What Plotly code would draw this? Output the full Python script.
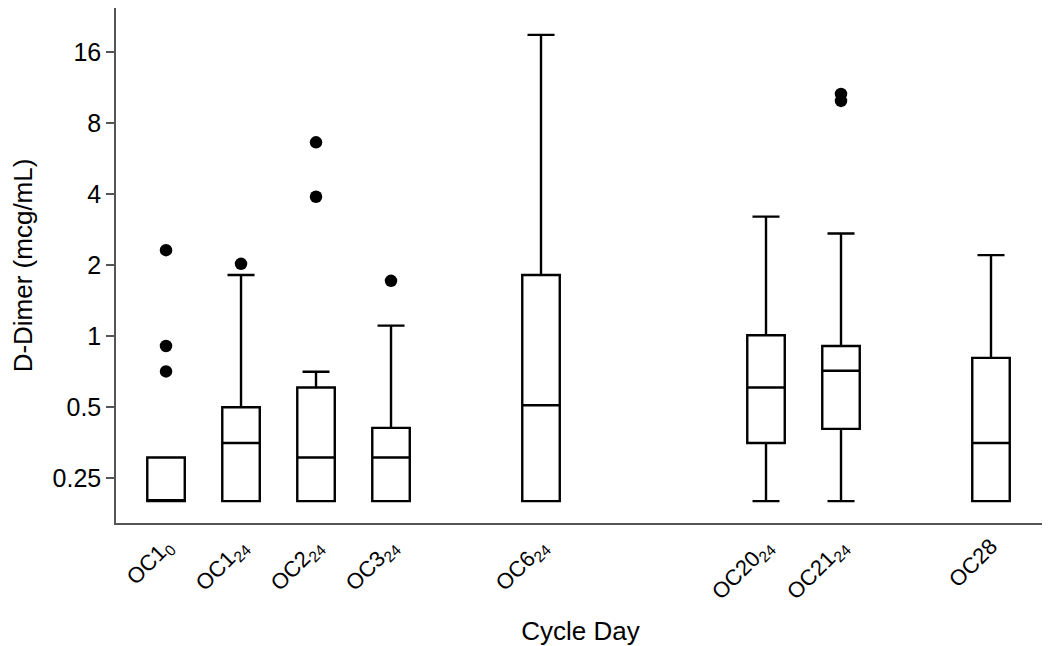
import math
import plotly.graph_objects as go

# ---- data ----
categories = ["OC1<sub>0</sub>", "OC1<sub>24</sub>", "OC2<sub>24</sub>", "OC3<sub>24</sub>",
              "OC6<sub>24</sub>", "OC20<sub>24</sub>", "OC21<sub>24</sub>", "OC28"]
lower_fence = [0.20, 0.20, 0.20, 0.20, 0.20, 0.20, 0.20, 0.20]
q1_vals = [0.20, 0.20, 0.20, 0.20, 0.20, 0.353, 0.405, 0.20]
median_vals = [0.20, 0.353, 0.306, 0.306, 0.51, 0.607, 0.714, 0.353]
q3_vals = [0.306, 0.50, 0.607, 0.409, 1.82, 1.01, 0.91, 0.81]
upper_fence = [0.306, 1.82, 0.708, 1.11, 19.0, 3.22, 2.73, 2.21]

outlier_cat = ["OC1<sub>0</sub>", "OC1<sub>0</sub>", "OC1<sub>0</sub>",
               "OC1<sub>24</sub>",
               "OC2<sub>24</sub>", "OC2<sub>24</sub>",
               "OC3<sub>24</sub>",
               "OC21<sub>24</sub>", "OC21<sub>24</sub>"]
outlier_val = [2.32, 0.91, 0.71, 2.03, 6.65, 3.91, 1.72, 10.67, 9.97]

y_ticks = [0.25, 0.5, 1, 2, 4, 8, 16]
y_tick_text = ["0.25", "0.5", "1", "2", "4", "8", "16"]

# ---- layout: slot index of each category along the x axis ----
slot_of = {c: s for c, s in zip(categories, [0, 1, 2, 3, 5, 8, 9, 11])}
slots = [slot_of[c] for c in categories]

FONT = "Liberation Sans, Arial, sans-serif"

fig = go.Figure()
fig.add_trace(go.Box(
    x=slots,
    q1=q1_vals, median=median_vals, q3=q3_vals,
    lowerfence=lower_fence, upperfence=upper_fence,
    width=0.5, whiskerwidth=0.72,
    fillcolor="white",
    line=dict(color="black", width=2.4),
    boxpoints=False,
    showlegend=False,
    hoverinfo="skip",
))
fig.add_trace(go.Scatter(
    x=[slot_of[c] for c in outlier_cat], y=outlier_val,
    mode="markers",
    marker=dict(color="black", size=12.5, line=dict(width=0)),
    showlegend=False,
    hoverinfo="skip",
))

# page has an 8px body margin, so the figure is sized 1042x638
fig.update_layout(
    width=1042, height=638,
    margin=dict(l=108, r=5, t=0, b=117),
    paper_bgcolor="white", plot_bgcolor="white",
    font=dict(family=FONT, color="black", size=25),
)
fig.update_xaxes(
    range=[-0.667, 11.72],
    tickmode="array", tickvals=slots, ticktext=categories,
    tickangle=-45, ticks="", showgrid=False, zeroline=False,
    showline=True, linecolor="#555555", linewidth=1.5,
    tickfont=dict(size=22, family=FONT, color="black"),
    title=dict(text="Cycle Day", font=dict(size=26, family=FONT), standoff=22),
)
fig.update_yaxes(
    type="log",
    range=[math.log2(0.1615) * math.log10(2), (4 + 45 / 71.8) * math.log10(2)],
    tickmode="array", tickvals=y_ticks, ticktext=y_tick_text,
    ticks="outside", ticklen=8, tickwidth=1.5, tickcolor="#555555",
    showgrid=False, zeroline=False,
    showline=True, linecolor="#555555", linewidth=1.5,
    tickfont=dict(size=25, family=FONT, color="black"),
    title=dict(text="D-Dimer (mcg/mL)", font=dict(size=26, family=FONT), standoff=12),
)

fig.write_html("out.html")
